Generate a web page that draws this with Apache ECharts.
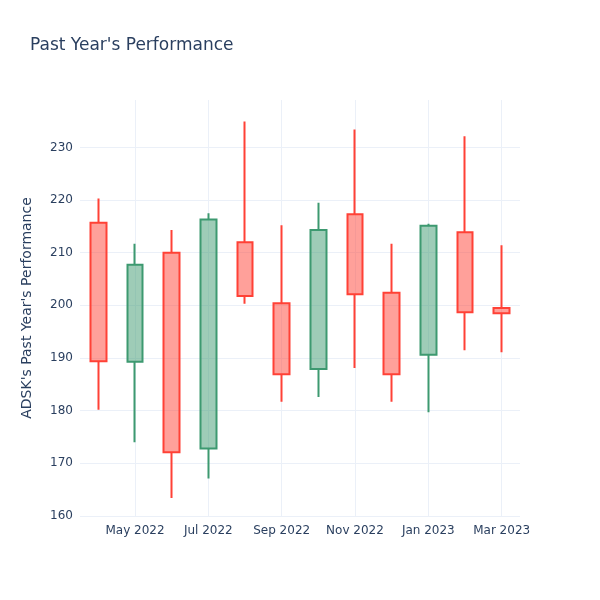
<!DOCTYPE html>
<html>
<head>
<meta charset="utf-8">
<script src="https://cdn.jsdelivr.net/npm/echarts@6/dist/echarts.min.js"></script>
<style>html,body{margin:0;padding:0;background:#fff;}#chart{width:600px;height:600px;}</style>
</head>
<body>
<div id="chart"></div>
<script>
// Monthly candles (month start)
const months = ['Apr 2022','May 2022','Jun 2022','Jul 2022','Aug 2022','Sep 2022','Oct 2022','Nov 2022','Dec 2022','Jan 2023','Feb 2023','Mar 2023'];
const openVals  = [215.7, 189.3, 210.0, 172.8, 212.0, 200.4, 187.9, 217.3, 202.4, 190.6, 213.9, 199.5];
const closeVals = [189.4, 207.7, 172.1, 216.3, 201.8, 186.9, 214.3, 202.1, 186.9, 215.1, 198.7, 198.5];
const lowVals   = [180.2, 174.0, 163.4, 167.1, 200.3, 181.7, 182.6, 188.1, 181.7, 179.7, 191.5, 191.1];
const highVals  = [220.3, 211.7, 214.3, 217.5, 234.9, 215.2, 219.5, 233.4, 211.7, 215.5, 232.1, 211.4];

const candleData = months.map((m, i) => [openVals[i], closeVals[i], lowVals[i], highVals[i]]);

const font = '"DejaVu Sans", verdana, arial, sans-serif';
const txt = '#2a3f5f';
const grid = '#ebf0f8';

const chart = echarts.init(document.getElementById('chart'), null, {renderer: 'canvas'});
chart.setOption({
  backgroundColor: '#fff',
  animation: false,
  title: {
    text: "Past Year's Performance",
    left: 30, top: 37, padding: 0,
    textStyle: {fontFamily: font, fontSize: 17, fontWeight: 'normal', color: txt}
  },
  grid: {left: 80, right: 80, top: 100, bottom: 84},
  xAxis: {
    type: 'category',
    data: months,
    boundaryGap: true,
    axisLine: {show: false},
    axisTick: {show: false},
    axisLabel: {
      interval: (i) => i % 2 === 1,
      margin: 9,
      fontFamily: font, fontSize: 12, color: txt
    },
    splitLine: {
      show: true,
      alignWithLabel: true,
      interval: (i) => i % 2 === 1,
      lineStyle: {color: grid, width: 1}
    }
  },
  yAxis: {
    type: 'value',
    min: 160, max: 239, interval: 10,
    name: "ADSK's Past Year's Performance",
    nameLocation: 'middle',
    nameGap: 46,
    nameTextStyle: {fontFamily: font, fontSize: 14, color: txt},
    axisLine: {show: false},
    axisTick: {show: false},
    axisLabel: {showMaxLabel: false, margin: 7, fontFamily: font, fontSize: 12, color: txt},
    splitLine: {show: true, showMaxLine: false, lineStyle: {color: grid, width: 1}}
  },
  series: [{
    type: 'candlestick',
    data: candleData,
    barWidth: 16,
    itemStyle: {
      color: 'rgba(61,153,112,0.5)',
      color0: 'rgba(255,65,54,0.5)',
      borderColor: '#3D9970',
      borderColor0: '#FF4136',
      borderWidth: 2
    }
  }]
});
</script>
</body>
</html>
